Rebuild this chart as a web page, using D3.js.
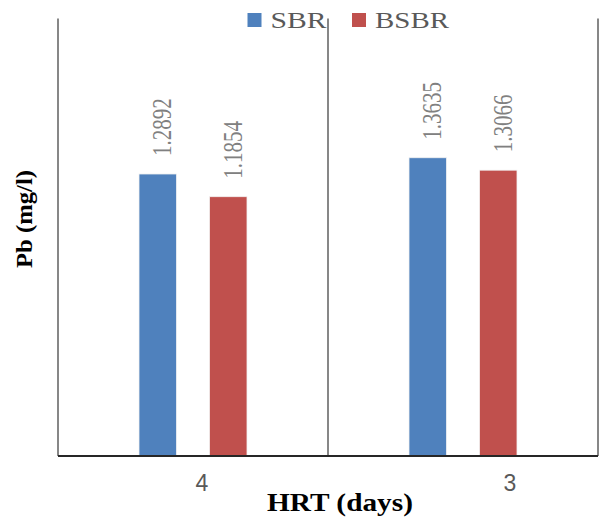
<!DOCTYPE html>
<html>
<head>
<meta charset="utf-8">
<script src="https://cdn.jsdelivr.net/npm/d3@7"></script>
<style>
  body { margin: 0; background: #fff; }
  svg { display: block; }
</style>
</head>
<body>
<div id="chart"></div>
<script>
'use strict';

// datos del grafico
var categorias = ["4", "3"];
var series = ["SBR", "BSBR"];
var valoresSBR = [1.2892, 1.3635];
var valoresBSBR = [1.1854, 1.3066];
var etiquetas = ["1.2892", "1.3635"];
var etiquetasB = ["1.1854", "1.3066"];
var colores = ["#4F81BD", "#C0504D"];

var ancho = 600, alto = 519;
var margen = {top: 18.5, right: 2, bottom: 63, left: 58};

var svg = d3.select("#chart").append("svg")
    .attr("width", ancho)
    .attr("height", alto);

var x = d3.scaleBand()
    .domain(categorias)
    .range([margen.left, ancho - margen.right])
    .paddingInner(0)
    .paddingOuter(0);

var xSerie = d3.scaleBand()
    .domain(series)
    .range([0, x.bandwidth()])
    .paddingInner(0.468)
    .paddingOuter(1.149);

var y = d3.scaleLinear()
    .domain([0, 2])
    .range([alto - margen.bottom, margen.top]);

var datos = categorias.map(function (c, i) {
    return [
        {cat: c, serie: series[0], valor: valoresSBR[i], texto: etiquetas[i]},
        {cat: c, serie: series[1], valor: valoresBSBR[i], texto: etiquetasB[i]}
    ];
});

// lineas verticales entre categorias
var bordes = categorias.map(function (c) { return x(c); }).concat([x.range()[1]]);
svg.append("g").selectAll("line")
    .data(bordes)
    .enter().append("line")
    .attr("x1", function (d) { return d; })
    .attr("x2", function (d) { return d; })
    .attr("y1", y(2))
    .attr("y2", y(0))
    .attr("stroke", "#878787")
    .attr("stroke-width", 2);

// barras
var grupos = svg.append("g").selectAll("g")
    .data(datos)
    .enter().append("g")
    .attr("transform", function (d, i) { return "translate(" + x(categorias[i]) + ",0)"; });

grupos.selectAll("rect")
    .data(function (d) { return d; })
    .enter().append("rect")
    .attr("x", function (d) { return xSerie(d.serie); })
    .attr("width", xSerie.bandwidth())
    .attr("y", function (d) { return y(d.valor); })
    .attr("height", function (d) { return y(0) - y(d.valor); })
    .attr("fill", function (d, i) { return colores[i]; })
    .attr("stroke", "#f2f2f2")
    .attr("stroke-width", 0.8);

// etiquetas de valor (rotadas)
grupos.selectAll("text")
    .data(function (d) { return d; })
    .enter().append("text")
    .attr("transform", function (d) {
        var cx = xSerie(d.serie) + xSerie.bandwidth() / 2 + 4;
        return "translate(" + cx + "," + (y(d.valor) - 18) + ") scale(1.3,1) rotate(-90)";
    })
    .attr("dy", "0.35em")
    .attr("text-anchor", "start")
    .attr("font-family", "'Liberation Serif', 'Times New Roman', serif")
    .attr("font-size", 21)
    .attr("fill", "#808080")
    .text(function (d) { return d.texto; });

// eje x (linea base)
svg.append("line")
    .attr("x1", x.range()[0])
    .attr("x2", x.range()[1])
    .attr("y1", y(0))
    .attr("y2", y(0))
    .attr("stroke", "#262626")
    .attr("stroke-width", 2);

// etiquetas de categorias
var desplazamiento = [9, 47];
svg.append("g").selectAll("text")
    .data(categorias)
    .enter().append("text")
    .attr("x", function (d, i) { return x(d) + x.bandwidth() / 2 + desplazamiento[i]; })
    .attr("y", y(0) + 35)
    .attr("text-anchor", "middle")
    .attr("font-family", "'Liberation Sans', Arial, sans-serif")
    .attr("font-size", 23)
    .attr("fill", "#595959")
    .text(function (d) { return d; });

// titulos de ejes
svg.append("text")
    .attr("x", 340)
    .attr("y", 511)
    .attr("text-anchor", "middle")
    .attr("font-family", "'Liberation Serif', 'Times New Roman', serif")
    .attr("font-weight", "bold")
    .attr("font-size", 25)
    .attr("textLength", 146)
    .attr("lengthAdjust", "spacingAndGlyphs")
    .attr("fill", "#000")
    .text("HRT (days)");

svg.append("text")
    .attr("transform", "translate(32,219) rotate(-90)")
    .attr("text-anchor", "middle")
    .attr("font-family", "'Liberation Serif', 'Times New Roman', serif")
    .attr("font-weight", "bold")
    .attr("font-size", 23)
    .attr("textLength", 98)
    .attr("lengthAdjust", "spacingAndGlyphs")
    .attr("fill", "#000")
    .text("Pb (mg/l)");

// leyenda
var leyendaX = [247.5, 352];
var leyendaAncho = [56, 74];
var leyenda = svg.append("g").selectAll("g")
    .data(series)
    .enter().append("g")
    .attr("transform", function (d, i) { return "translate(" + leyendaX[i] + ",13)"; });

leyenda.append("rect")
    .attr("width", 14)
    .attr("height", 14)
    .attr("fill", function (d, i) { return colores[i]; });

leyenda.append("text")
    .attr("x", 23)
    .attr("y", 15)
    .attr("font-family", "'Liberation Serif', 'Times New Roman', serif")
    .attr("font-size", 23)
    .attr("textLength", function (d, i) { return leyendaAncho[i]; })
    .attr("lengthAdjust", "spacingAndGlyphs")
    .attr("fill", "#595959")
    .text(function (d) { return d; });
</script>
</body>
</html>
